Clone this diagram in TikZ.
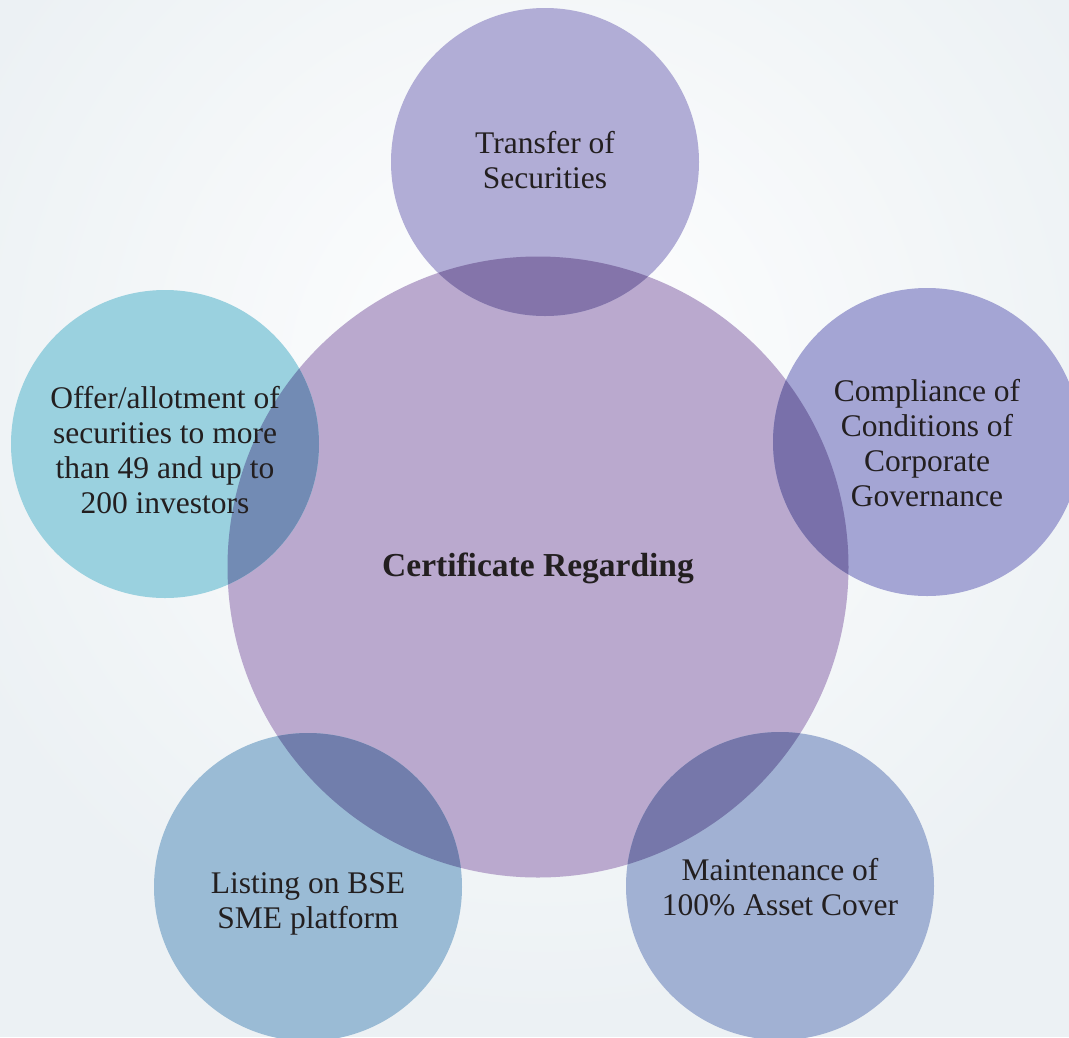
\documentclass[tikz,border=0pt]{standalone}
\usepackage{fontspec}
\setmainfont{Liberation Serif}
\definecolor{bgc}{RGB}{236,241,244}
\definecolor{cmain}{RGB}{186,169,206}
\definecolor{ctop}{RGB}{177,173,214}
\definecolor{cright}{RGB}{164,165,212}
\definecolor{cleft}{RGB}{154,209,223}
\definecolor{cbl}{RGB}{154,187,213}
\definecolor{cbr}{RGB}{161,177,211}
\definecolor{otop}{RGB}{132,116,170}
\definecolor{oright}{RGB}{121,112,170}
\definecolor{oleft}{RGB}{114,139,180}
\definecolor{obl}{RGB}{113,126,172}
\definecolor{obr}{RGB}{118,119,170}
\definecolor{txt}{RGB}{35,31,32}
\tikzset{
  bubble/.style={circle, minimum size=308pt, inner sep=0pt, draw=none},
  lbl/.style={font=\fontsize{31.5}{35}\selectfont, align=center, text=txt, inner sep=0pt},
  mainlbl/.style={font=\fontsize{33.5}{38}\selectfont\bfseries, align=center, text=txt, inner sep=0pt}
}
\begin{document}
\begin{tikzpicture}[x=1pt,y=-1pt]
\useasboundingbox (0,0) rectangle (1069,1037);
\begin{scope}
  \clip (0,0) rectangle (1069,1037);
  \fill[bgc] (0,0) rectangle (1069,1037);
  \shade[inner color=white, outer color=bgc] (540,380) circle (640);
\end{scope}
\node[bubble, fill=cmain, minimum size=621pt] (cmainc) at (538,567) {};
\node[bubble, fill=ctop] (ctopc) at (545,162) {};
\node[bubble, fill=cright] (crightc) at (927,442) {};
\node[bubble, fill=cleft] (cleftc) at (165,444) {};
\node[bubble, fill=cbl] (cblc) at (308,887) {};
\node[bubble, fill=cbr] (cbrc) at (780,886) {};
% overlaps with the central circle
\begin{scope}
  \clip (cmainc.center) circle (310.5);
  \fill[otop] (ctopc.center) circle (154);
  \fill[oright] (crightc.center) circle (154);
  \fill[oleft] (cleftc.center) circle (154);
  \fill[obl] (cblc.center) circle (154);
  \fill[obr] (cbrc.center) circle (154);
\end{scope}
\node[mainlbl] (tmain) at (538,568) {Certificate Regarding};
\node[lbl] (ttop) at (545,160) {Transfer of\\Securities};
\node[lbl] (tright) at (927,443) {Compliance of\\Conditions of\\Corporate\\Governance};
\node[lbl] (tleft) at (165,450) {Offer/allotment of\\securities to more\\than 49 and up to\\200 investors};
\node[lbl] (tbl) at (308,904) {Listing on BSE\\SME platform};
\node[lbl] (tbr) at (780,887) {Maintenance of\\100\% Asset Cover};
\end{tikzpicture}
\end{document}
